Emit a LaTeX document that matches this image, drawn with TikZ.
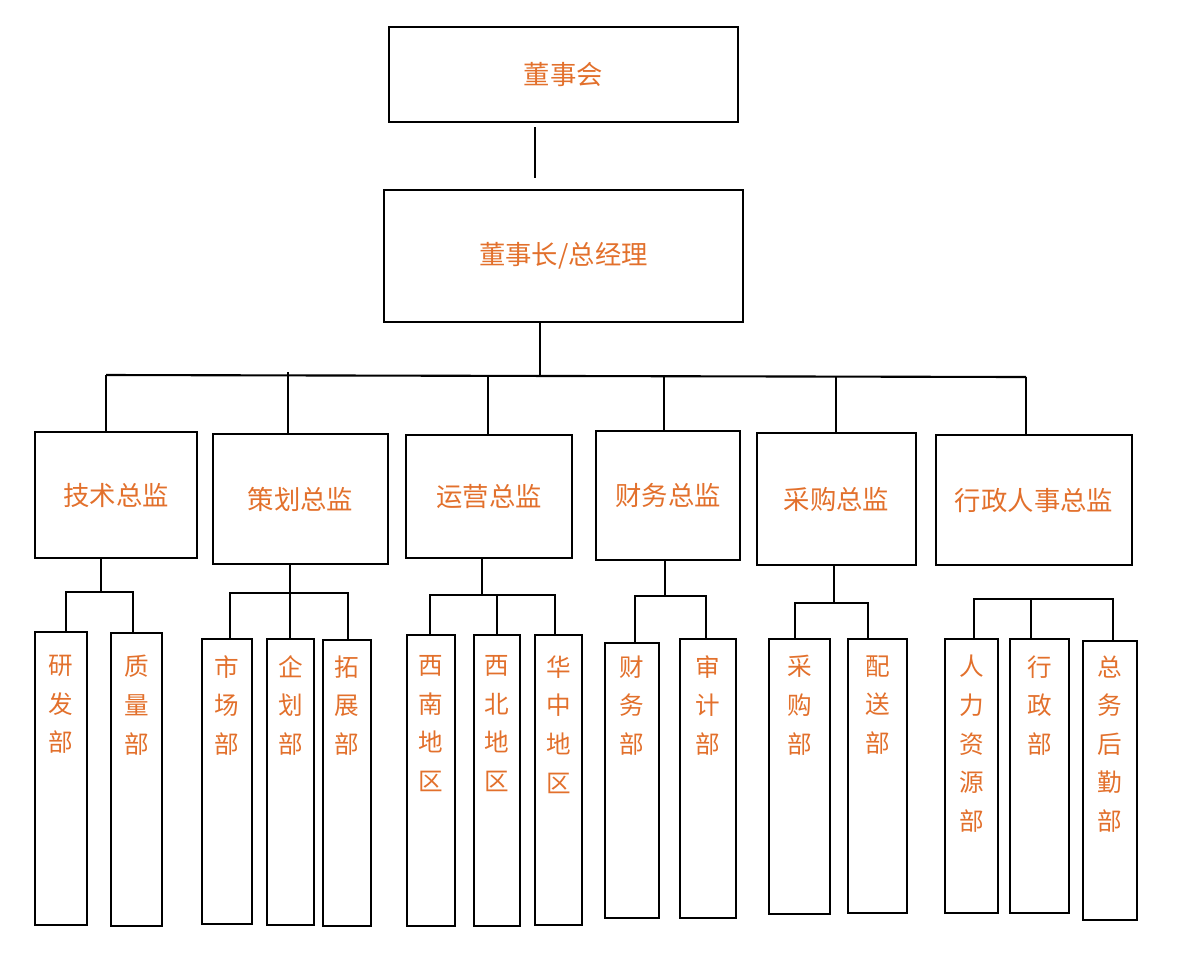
\documentclass[tikz,border=0pt]{standalone}
\usepackage{fontspec}
\setmainfont{Noto Sans CJK SC}
\usepackage{tikz}
\usetikzlibrary{positioning}
\definecolor{orgtext}{RGB}{226,112,44}

\begin{document}
\begin{tikzpicture}[
  x=0.02cm, y=-0.02cm,
  box/.style={draw, line width=1.2pt, inner sep=0pt},
  lbl/.style={text=orgtext, font=\fontsize{15}{18}\selectfont},
  vlbl/.style={text=orgtext, font=\fontsize{14}{22}\selectfont, align=center, anchor=north, inner sep=0pt},
  wire/.style={line width=1.2pt},
]
\useasboundingbox (0,0) rectangle (1180,958);

% box from corner x1,y1 to x2,y2 (pixels)
\newcommand\orgbox[6]{%
  \pgfmathsetmacro\bw{(#4-#2)*0.02}\pgfmathsetmacro\bh{(#5-#3)*0.02}%
  \node[box, minimum width=\bw cm, minimum height=\bh cm] (#1) at ({(#2+#4)/2},{(#3+#5)/2}) {};
  \node[lbl] (#1t) at (#1.center) {#6};}
\newcommand\deptbox[6]{%
  \pgfmathsetmacro\bw{(#4-#2)*0.02}\pgfmathsetmacro\bh{(#5-#3)*0.02}%
  \node[box, minimum width=\bw cm, minimum height=\bh cm] (#1) at ({(#2+#4)/2},{(#3+#5)/2}) {};
  \node[vlbl] (#1t) at ({(#2+#4)/2},655) {#6};}

% top levels
\orgbox{board}{389}{27}{738}{122}{董事会}
\orgbox{ceo}{384}{190}{743}{322}{董事长/总经理}
\draw[wire] (535,127) -- (535,178);

% directors
\orgbox{tech}{35}{432}{197}{558}{技术总监}
\orgbox{plan}{213}{434}{388}{564}{策划总监}
\orgbox{oper}{406}{435}{572}{558}{运营总监}
\orgbox{fin}{596}{431}{740}{560}{财务总监}
\orgbox{buy}{757}{433}{916}{565}{采购总监}
\orgbox{admin}{936}{435}{1132}{565}{行政人事总监}

\coordinate (busL) at (106,375);
\coordinate (busR) at (1026,377);
\draw[wire] (ceo.south -| 540,0) -- (540,375);
\draw[wire] (busL) -- (busR);
\draw[wire] (busL) -- (busL |- tech.north);
\draw[wire] (288,372) -- (plan.north -| 288,0);
\draw[wire] (488,376) -- (oper.north -| 488,0);
\draw[wire] (664,376) -- (fin.north -| 664,0);
\draw[wire] (836,376) -- (buy.north -| 836,0);
\draw[wire] (busR) -- (busR |- admin.north);

% departments
\deptbox{rd}{35}{632}{87}{925}{研\\发\\部}
\deptbox{qa}{111}{633}{162}{926}{质\\量\\部}
\deptbox{mkt}{202}{639}{252}{924}{市\\场\\部}
\deptbox{corp}{267}{639}{314}{925}{企\\划\\部}
\deptbox{exp}{323}{640}{371}{926}{拓\\展\\部}
\deptbox{sw}{407}{635}{455}{926}{西\\南\\地\\区}
\deptbox{nw}{474}{635}{520}{926}{西\\北\\地\\区}
\deptbox{cc}{535}{635}{582}{925}{华\\中\\地\\区}
\deptbox{acc}{605}{643}{659}{918}{财\\务\\部}
\deptbox{aud}{680}{639}{736}{918}{审\\计\\部}
\deptbox{pur}{769}{639}{830}{914}{采\\购\\部}
\deptbox{dlv}{848}{639}{907}{913}{配\\送\\部}
\deptbox{hr}{945}{639}{998}{913}{人\\力\\资\\源\\部}
\deptbox{off}{1010}{639}{1069}{913}{行\\政\\部}
\deptbox{gen}{1083}{641}{1137}{920}{总\\务\\后\\勤\\部}

% department wiring
\draw[wire] (tech.south -| 101,0) -- (101,592);
\draw[wire] (rd.north -| 66,0) -- (66,592) -- (133,592) -- (qa.north -| 133,0);
\draw[wire] (plan.south -| 290,0) -- (290,593);
\draw[wire] (mkt.north -| 230,0) -- (230,593) -- (348,593) -- (exp.north -| 348,0);
\draw[wire] (290,593) -- (corp.north -| 290,0);
\draw[wire] (oper.south -| 482,0) -- (482,595);
\draw[wire] (sw.north -| 430,0) -- (430,595) -- (555,595) -- (cc.north -| 555,0);
\draw[wire] (497,595) -- (nw.north -| 497,0);
\draw[wire] (fin.south -| 665,0) -- (665,596);
\draw[wire] (acc.north -| 635,0) -- (635,596) -- (706,596) -- (aud.north -| 706,0);
\draw[wire] (buy.south -| 834,0) -- (834,603);
\draw[wire] (pur.north -| 795,0) -- (795,603) -- (868,603) -- (dlv.north -| 868,0);
\draw[wire] (hr.north -| 974,0) -- (974,599) -- (1113,599) -- (gen.north -| 1113,0);
\draw[wire] (1031,599) -- (off.north -| 1031,0);
\end{tikzpicture}
\end{document}
